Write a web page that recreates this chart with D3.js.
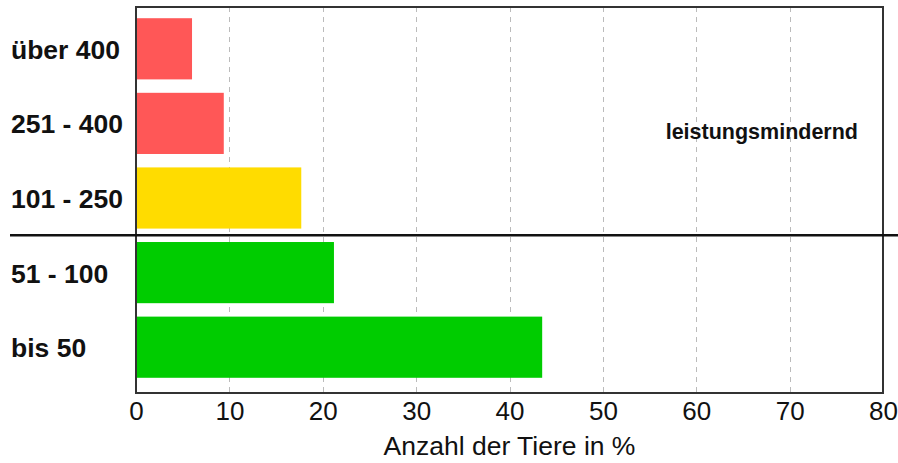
<!DOCTYPE html>
<html>
<head>
<meta charset="utf-8">
<script src="https://cdn.jsdelivr.net/npm/d3@7"></script>
<style>
  body { margin: 0; background: #fff; }
  svg { display: block; font-family: "Liberation Sans", Arial, sans-serif; }
</style>
</head>
<body>
<div id="chart"></div>
<script>
// categories top to bottom
const categories = ['über 400', '251 - 400', '101 - 250', '51 - 100', 'bis 50'];
const values = [6.0, 9.4, 17.7, 21.2, 43.5];
const colors = ['#ff5757', '#ff5757', '#ffdc00', '#00cc00', '#00cc00'];
const xTicks = [0, 10, 20, 30, 40, 50, 60, 70, 80];
const xTitle = 'Anzahl der Tiere in %';
const note = 'leistungsmindernd';

const W = 898, H = 463;
const m = { left: 136, right: 15, top: 7, bottom: 70 };
const pw = W - m.left - m.right, ph = H - m.top - m.bottom;

const svg = d3.select('#chart').append('svg').attr('width', W).attr('height', H);

const x = d3.scaleLinear().domain([0, 80]).range([m.left, m.left + pw]);
const y = d3.scaleBand().domain(categories).range([m.top + 4.5, m.top + ph - 8.5]).paddingInner(0.18).paddingOuter(0.09);

// grid
svg.append('g').selectAll('line')
  .data(xTicks.filter(d => d > 0 && d < 80))
  .join('line')
  .attr('x1', d => Math.round(x(d)) + 0.5).attr('x2', d => Math.round(x(d)) + 0.5)
  .attr('y1', m.top).attr('y2', m.top + ph)
  .attr('stroke', '#bbb').attr('stroke-width', 1).attr('stroke-dasharray', '5,5');

// bars
svg.append('g').selectAll('rect')
  .data(categories)
  .join('rect')
  .attr('x', x(0) + 1)
  .attr('y', d => y(d))
  .attr('width', (d, i) => x(values[i]) - x(0) - 1)
  .attr('height', y.bandwidth())
  .attr('fill', (d, i) => colors[i]);

// frame
svg.append('rect')
  .attr('x', m.left).attr('y', m.top).attr('width', pw).attr('height', ph)
  .attr('fill', 'none').attr('stroke', '#333').attr('stroke-width', 2);

// separator between 101 - 250 and 51 - 100
const sepY = (y('101 - 250') + y.bandwidth() + y('51 - 100')) / 2;
svg.append('line')
  .attr('x1', 10).attr('x2', W).attr('y1', sepY).attr('y2', sepY)
  .attr('stroke', '#111').attr('stroke-width', 2.5);

// category labels
svg.append('g').selectAll('text')
  .data(categories)
  .join('text')
  .attr('x', 11)
  .attr('y', d => y(d) + y.bandwidth() / 2 + 10)
  .attr('font-size', 26.5).attr('font-weight', 'bold').attr('fill', '#111')
  .text(d => d);

// x axis tick labels
const xAxis = d3.axisBottom(x).tickValues(xTicks).tickSize(0).tickPadding(9);
const gx = svg.append('g').attr('transform', `translate(0,${m.top + ph})`).call(xAxis);
gx.select('.domain').remove();
gx.selectAll('text').attr('font-size', 26).attr('font-family', '"Liberation Sans", Arial, sans-serif').attr('fill', '#111');

svg.append('text')
  .attr('x', x(40)).attr('y', 455)
  .attr('text-anchor', 'middle')
  .attr('font-size', 26.5).attr('fill', '#111')
  .text(xTitle);

svg.append('text')
  .attr('x', 858).attr('y', 139)
  .attr('text-anchor', 'end')
  .attr('font-size', 21.5).attr('font-weight', 'bold').attr('fill', '#111')
  .text(note);
</script>
</body>
</html>
